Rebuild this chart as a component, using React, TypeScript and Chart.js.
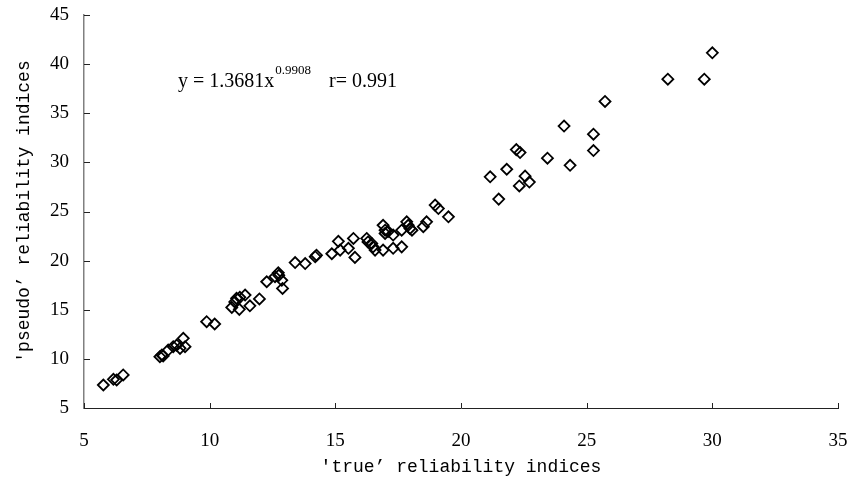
import React, { useEffect, useRef } from "react";
import { Chart, registerables } from "chart.js";

Chart.register(...registerables);

const trueIdx: number[] = [
  5.77, 6.17, 6.3, 6.56, 8.02, 8.1, 8.15, 8.35, 8.55, 8.69, 8.82, 8.95, 9.02,
  9.88, 10.2, 10.88, 11.0, 11.07, 11.2, 11.18, 11.41, 11.6, 11.98, 12.27, 12.6,
  12.73, 12.87, 12.9, 12.75, 13.4, 13.8, 14.2, 14.25, 14.86, 15.12, 15.19,
  15.52, 15.72, 15.78, 16.25, 16.3, 16.45, 16.5, 16.58, 16.9, 16.9, 16.98,
  16.98, 17.1, 17.3, 17.3, 17.64, 17.64, 17.84, 17.9, 17.97, 18.05, 18.5,
  18.63, 18.97, 19.1, 19.5, 21.16, 21.5, 21.82, 22.2, 22.35, 22.32, 22.55,
  22.72, 23.44, 24.1, 24.34, 25.27, 25.27, 25.73, 28.23, 29.68, 30.0,
];
const pseudoIdx: number[] = [
  7.34, 7.92, 7.85, 8.36, 10.22, 10.4, 10.3, 10.9, 11.24, 11.4, 11.07, 12.09,
  11.24, 13.78, 13.55, 15.24, 15.8, 16.16, 16.26, 15.04, 16.5, 15.4, 16.1,
  17.85, 18.36, 18.76, 18.0, 17.17, 18.5, 19.8, 19.7, 20.4, 20.55, 20.7, 21.96,
  21.07, 21.25, 22.26, 20.33, 22.26, 21.9, 21.75, 21.4, 21.07, 21.07, 23.6,
  23.1, 22.77, 22.96, 22.6, 21.25, 21.4, 23.1, 23.95, 23.6, 23.27, 23.1, 23.46,
  23.95, 25.65, 25.3, 24.46, 28.53, 26.26, 29.3, 31.3, 31.0, 27.6, 28.6, 28.0,
  30.43, 33.7, 29.7, 32.87, 31.2, 36.2, 38.47, 38.47, 41.15,
];

const xTitle = "'true\u2019 reliability indices";
const yTitle = "'pseudo\u2019 reliability indices";
const eqMain = "y = 1.3681x";
const eqExp = "0.9908";
const eqR = "r= 0.991";
const eqAnchor = { x: 8.74, y: 37.66 };

const X_AXIS_COLOR = "#222";
const Y_AXIS_COLOR = "#808080";

const insideTicks = {
  id: "insideTicks",
  afterDraw(chart: any) {
    const { ctx, scales, chartArea } = chart;
    ctx.save();
    ctx.lineWidth = 1;
    const xs = scales.x;
    ctx.strokeStyle = X_AXIS_COLOR;
    xs.ticks.forEach((t: any) => {
      const px = Math.round(xs.getPixelForValue(t.value)) + 0.5;
      ctx.beginPath();
      ctx.moveTo(px, chartArea.bottom);
      ctx.lineTo(px, chartArea.bottom - 5);
      ctx.stroke();
    });
    const ys = scales.y;
    ctx.strokeStyle = X_AXIS_COLOR;
    ys.ticks.forEach((t: any) => {
      const py = Math.round(ys.getPixelForValue(t.value)) + 0.5;
      ctx.beginPath();
      ctx.moveTo(chartArea.left, py);
      ctx.lineTo(chartArea.left + 6, py);
      ctx.stroke();
    });
    // equation text
    const x0 = xs.getPixelForValue(eqAnchor.x);
    const y0 = ys.getPixelForValue(eqAnchor.y);
    ctx.fillStyle = "#000";
    ctx.textBaseline = "alphabetic";
    ctx.textAlign = "left";
    ctx.font = "20px 'Liberation Serif'";
    ctx.fillText(eqMain, x0, y0);
    let cx = x0 + ctx.measureText(eqMain).width;
    ctx.font = "13px 'Liberation Serif'";
    ctx.fillText(eqExp, cx + 1, y0 - 13);
    cx += ctx.measureText(eqExp).width + 1;
    ctx.font = "20px 'Liberation Serif'";
    ctx.fillText(eqR, cx + 18, y0);
    ctx.restore();
  },
};

export default function App() {
  const ref = useRef<HTMLCanvasElement>(null);
  useEffect(() => {
    if (!ref.current) return;
    const points = trueIdx.map((x, i) => ({ x, y: pseudoIdx[i] }));
    const chart = new Chart(ref.current, {
      type: "scatter",
      data: {
        datasets: [
          {
            data: points,
            pointStyle: "rectRot",
            pointRadius: 5.5,
            pointHoverRadius: 5.5,
            borderWidth: 1.8,
            borderColor: "#000",
            backgroundColor: "rgba(0,0,0,0)",
          },
        ],
      },
      options: {
        responsive: false,
        animation: false,
        layout: { padding: { top: 15, right: 14, left: 0, bottom: 0 } },
        plugins: {
          legend: { display: false },
          tooltip: { enabled: false },
        },
        scales: {
          x: {
            type: "linear",
            min: 5,
            max: 35,
            ticks: {
              stepSize: 5,
              color: "#000",
              padding: 14,
              font: { family: "'Liberation Serif'", size: 19 },
            },
            grid: { display: false },
            border: { display: true, color: X_AXIS_COLOR, width: 1 },
            title: {
              display: true,
              text: xTitle,
              color: "#000",
              font: { family: "'Liberation Mono'", size: 18 },
              padding: { top: 0, bottom: 5 },
            },
            afterFit: (s: any) => {
              s.height = 75;
              s.paddingLeft = 0;
              s.paddingRight = 0;
            },
          },
          y: {
            type: "linear",
            min: 5,
            max: 45,
            ticks: {
              stepSize: 5,
              color: "#000",
              padding: 7,
              font: { family: "'Liberation Serif'", size: 19 },
            },
            grid: { display: false },
            border: { display: true, color: Y_AXIS_COLOR, width: 1.5 },
            title: {
              display: true,
              text: yTitle,
              color: "#000",
              font: { family: "'Liberation Mono'", size: 18 },
              padding: { top: 13, bottom: 0 },
            },
            afterFit: (s: any) => {
              s.width = 84;
              s.paddingTop = 0;
              s.paddingBottom = 0;
            },
          },
        },
      },
      plugins: [insideTicks],
    });
    return () => chart.destroy();
  }, []);
  return (
    <div style={{ position: "absolute", left: 0, top: 0, width: 852, height: 483, background: "#fff" }}>
      <canvas ref={ref} width={852} height={483} style={{ display: "block" }} />
    </div>
  );
}
